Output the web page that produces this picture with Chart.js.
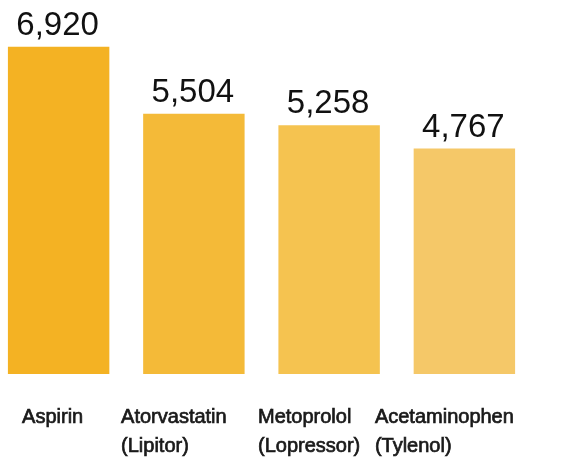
<!DOCTYPE html>
<html>
<head>
<meta charset="utf-8">
<script src="https://cdn.jsdelivr.net/npm/chart.js@4"></script>
<style>
  html, body { margin: 0; padding: 0; background: #fff; overflow: hidden; }
  #wrap { position: absolute; left: -9px; top: 0; width: 586px; height: 457px; }
</style>
</head>
<body>
<div id="wrap"><canvas id="chart"></canvas></div>
<script>
const drugs = [["Aspirin"], ["Atorvastatin", "(Lipitor)"], ["Metoprolol", "(Lopressor)"], ["Acetaminophen", "(Tylenol)"]];
const prescriptions = [6920, 5504, 5258, 4767];
const barColors = ["#F4B223", "#F4BA38", "#F5C350", "#F5C868"];

// value labels above each bar
const valueLabels = {
  id: "valueLabels",
  afterDatasetsDraw(chart) {
    const ctx = chart.ctx;
    const meta = chart.getDatasetMeta(0);
    ctx.save();
    ctx.font = "33px 'Liberation Sans', Arial, sans-serif";
    ctx.fillStyle = "#111";
    ctx.textAlign = "center";
    ctx.textBaseline = "alphabetic";
    meta.data.forEach((bar, i) => {
      ctx.fillText(prescriptions[i].toLocaleString("en-US"), bar.x - 1, bar.y - 12);
    });
    ctx.restore();
  }
};

// category labels, lines left-aligned under each bar
const catLabels = {
  id: "catLabels",
  afterDraw(chart) {
    const ctx = chart.ctx;
    const xs = chart.scales.x;
    const bottom = chart.chartArea.bottom;
    ctx.save();
    ctx.font = "20px 'Liberation Sans', Arial, sans-serif";
    ctx.fillStyle = "#1a1a1a";
    ctx.strokeStyle = "#1a1a1a";
    ctx.lineWidth = 0.7;
    ctx.textAlign = "left";
    ctx.textBaseline = "alphabetic";
    drugs.forEach((lines, i) => {
      const cx = xs.getPixelForValue(i);
      const w = Math.max(...lines.map(l => ctx.measureText(l).width));
      const left = cx - w / 2 - (lines.length > 1 ? 20 : 6);
      lines.forEach((l, j) => {
        const y = bottom + 49 + j * 29;
        ctx.fillText(l, left, y);
        ctx.strokeText(l, left, y);
      });
    });
    ctx.restore();
  }
};

new Chart(document.getElementById("chart"), {
  type: "bar",
  data: {
    labels: drugs,
    datasets: [{
      data: prescriptions,
      backgroundColor: barColors,
      borderWidth: 0,
      barPercentage: 0.75,
      categoryPercentage: 1
    }]
  },
  options: {
    responsive: true,
    maintainAspectRatio: false,
    animation: false,
    layout: { padding: { top: 43, bottom: 83, left: 0, right: 45 } },
    plugins: {
      legend: { display: false },
      tooltip: { enabled: false }
    },
    scales: {
      x: { display: false },
      y: { display: false, min: 0, max: 7000 }
    }
  },
  plugins: [valueLabels, catLabels]
});
</script>
</body>
</html>
